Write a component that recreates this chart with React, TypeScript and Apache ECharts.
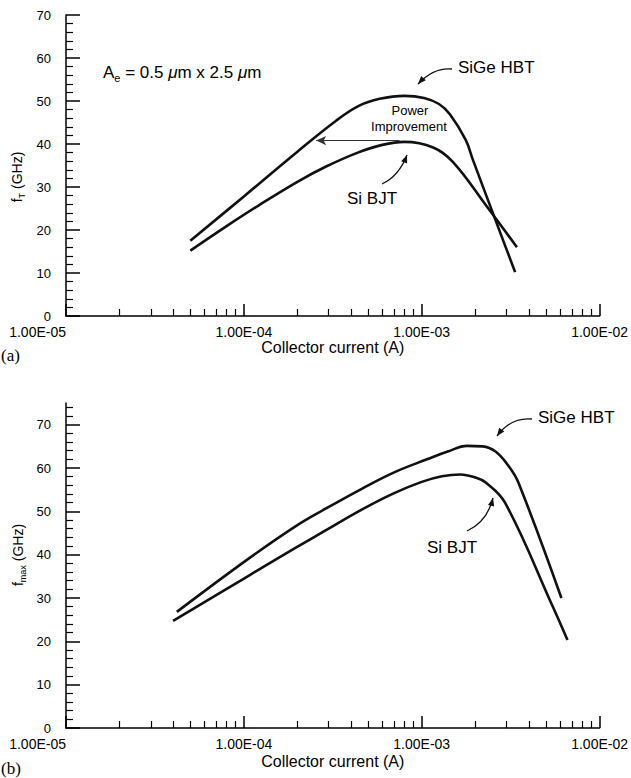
import React, { useEffect, useRef } from 'react';
import * as echarts from 'echarts';

// ---------- data ----------
// (a) cutoff frequency fT
const FT_SIGE_X = [5e-5, 1e-4, 2e-4, 3.3e-4, 4.4e-4, 5.8e-4, 8e-4, 1.03e-3, 1.25e-3, 1.44e-3, 1.77e-3, 1.94e-3, 3.35e-3];
const FT_SIGE_Y = [17.5, 27.8, 38.2, 45.4, 48.8, 50.5, 51.2, 50.7, 49.3, 46.9, 40.9, 36.3, 10.2];
const FT_SI_X = [5e-5, 8e-5, 1.22e-4, 2e-4, 2.88e-4, 4.37e-4, 6e-4, 8e-4, 1.16e-3, 1.5e-3, 2.34e-3, 3.43e-3];
const FT_SI_Y = [15.2, 20.9, 25.8, 31.2, 34.7, 38.0, 39.8, 40.5, 39.2, 35.8, 25.3, 16.0];

// (b) maximum oscillation frequency fmax
const FMAX_SIGE_X = [4.2e-5, 1.04e-4, 1.96e-4, 2.88e-4, 4.6e-4, 7e-4, 1.07e-3, 1.4e-3, 1.8e-3, 2.2e-3, 2.6e-3, 3.1e-3, 3.5e-3, 6.1e-3];
const FMAX_SIGE_Y = [26.8, 38.8, 46.6, 50.6, 55.2, 59.0, 62.0, 63.8, 65.1, 65.0, 63.8, 60.3, 56.6, 30.0];
const FMAX_SI_X = [4e-5, 1.04e-4, 1.96e-4, 2.88e-4, 4.6e-4, 7e-4, 1e-3, 1.3e-3, 1.65e-3, 2e-3, 2.3e-3, 2.94e-3, 5.5e-3, 6.6e-3];
const FMAX_SI_Y = [24.7, 34.9, 41.6, 45.6, 50.4, 54.2, 56.8, 58.1, 58.5, 57.8, 56.6, 52.0, 27.7, 20.3];

// power-improvement arrow (data coordinates)
const POWER_ARROW_FROM = [7.5e-4, 40.8];
const POWER_ARROW_TO = [2.55e-4, 40.8];

// ticks
const X_MAJOR_TICKS = [1e-5, 1e-4, 1e-3, 1e-2];
const X_MINOR_TICKS = [
  2e-5, 3e-5, 4e-5, 5e-5, 6e-5, 7e-5, 8e-5, 9e-5,
  2e-4, 3e-4, 4e-4, 5e-4, 6e-4, 7e-4, 8e-4, 9e-4,
  2e-3, 3e-3, 4e-3, 5e-3, 6e-3, 7e-3, 8e-3, 9e-3,
];
const Y_MAJOR_TICKS = [0, 10, 20, 30, 40, 50, 60, 70];
const Y_MINOR_TICKS_A = [2, 4, 6, 8, 12, 14, 16, 18, 22, 24, 26, 28, 32, 34, 36, 38, 42, 44, 46, 48, 52, 54, 56, 58, 62, 64, 66, 68];
const Y_MINOR_TICKS_B = [...Y_MINOR_TICKS_A, 72, 74];

const SANS = "'Liberation Sans', Arial, Helvetica, sans-serif";
const SERIF = "'Liberation Serif', 'Times New Roman', serif";
const INK = '#111';

const zip = (xs: number[], ys: number[]) => xs.map((x, i) => [x, ys[i]]);

const fmtExp = (v: number) => {
  const s = v.toExponential(2).toUpperCase();
  const [m, e] = s.split('E');
  const sign = e[0] === '-' ? '-' : '+';
  const d = e.replace(/[-+]/, '');
  return `${m}E${sign}${d.padStart(2, '0')}`;
};

const axisLineStyle = { color: '#000', width: 1.5 };

const makeX = (gridIndex: number, nameGap: number) => [
  {
    type: 'log',
    gridIndex,
    logBase: 10,
    min: 1e-5,
    max: 1e-2,
    position: 'bottom',
    axisLine: { show: true, onZero: false, lineStyle: axisLineStyle },
    axisTick: { show: true, inside: true, length: 12, customValues: X_MAJOR_TICKS, lineStyle: axisLineStyle },
    axisLabel: {
      show: true,
      customValues: X_MAJOR_TICKS,
      formatter: (v: number) => fmtExp(v),
      color: '#000',
      fontSize: 14,
      fontFamily: SANS,
      margin: 9,
      alignMinLabel: 'right',
    },
    splitLine: { show: false },
    minorTick: { show: false },
    name: 'Collector current (A)',
    nameLocation: 'middle',
    nameGap,
    nameTextStyle: { color: '#000', fontSize: 16, fontFamily: SANS },
  },
  {
    type: 'log',
    gridIndex,
    logBase: 10,
    min: 1e-5,
    max: 1e-2,
    position: 'bottom',
    offset: 0,
    axisLine: { show: false },
    axisTick: { show: true, inside: true, length: 7, customValues: X_MINOR_TICKS, lineStyle: { color: '#000', width: 1.2 } },
    axisLabel: { show: false },
    splitLine: { show: false },
  },
];

const makeY = (gridIndex: number, max: number, minor: number[]) => [
  {
    type: 'value',
    gridIndex,
    min: 0,
    max,
    position: 'left',
    axisLine: { show: true, onZero: false, lineStyle: axisLineStyle },
    axisTick: { show: true, inside: true, length: 14, customValues: Y_MAJOR_TICKS, lineStyle: axisLineStyle },
    axisLabel: { show: true, customValues: Y_MAJOR_TICKS, color: '#000', fontSize: 13, fontFamily: SANS, margin: 15 },
    splitLine: { show: false },
  },
  {
    type: 'value',
    gridIndex,
    min: 0,
    max,
    position: 'left',
    offset: 0,
    axisLine: { show: false },
    axisTick: { show: true, inside: true, length: 7, customValues: minor, lineStyle: { color: '#000', width: 1.2 } },
    axisLabel: { show: false },
    splitLine: { show: false },
  },
];

const curve = (name: string, xi: number, yi: number, xs: number[], ys: number[], extra: any = {}) => ({
  type: 'line',
  name,
  xAxisIndex: xi,
  yAxisIndex: yi,
  data: zip(xs, ys),
  showSymbol: false,
  smooth: 0.4,
  lineStyle: { color: INK, width: 2.6 },
  itemStyle: { color: INK },
  silent: true,
  ...extra,
});

// arrow head polygon for curved annotation arrows
const head = (tx: number, ty: number, fx: number, fy: number, len = 8, half = 3.2) => {
  const dx = tx - fx;
  const dy = ty - fy;
  const L = Math.hypot(dx, dy) || 1;
  const ux = dx / L;
  const uy = dy / L;
  const bx = tx - ux * len;
  const by = ty - uy * len;
  return {
    type: 'polygon',
    shape: { points: [[tx, ty], [bx - uy * half, by + ux * half], [bx + uy * half, by - ux * half]] },
    style: { fill: INK },
    silent: true,
  };
};

const curvedArrow = (x1: number, y1: number, cx: number, cy: number, x2: number, y2: number) => [
  {
    type: 'bezierCurve',
    shape: { x1, y1, cpx1: cx, cpy1: cy, x2, y2 },
    style: { stroke: INK, lineWidth: 1.3, fill: 'none' },
    silent: true,
  },
  head(x2, y2, cx, cy),
];

const label = (text: string, x: number, y: number, size = 17, align = 'left') => ({
  type: 'text',
  x,
  y,
  silent: true,
  style: { text, fill: '#000', fontSize: size, fontFamily: SANS, align, verticalAlign: 'middle' },
});

export default function App() {
  const ref = useRef<HTMLDivElement>(null);

  useEffect(() => {
    if (!ref.current) return;
    const chart = echarts.init(ref.current, null, { renderer: 'svg' });

    const option: any = {
      animation: false,
      backgroundColor: '#fff',
      grid: [
        { left: 66, top: 15, width: 544, height: 301 },
        { left: 66, top: 403, width: 544, height: 325 },
      ],
      xAxis: [...makeX(0, 21), ...makeX(1, 25)],
      yAxis: [...makeY(0, 70, Y_MINOR_TICKS_A), ...makeY(1, 75, Y_MINOR_TICKS_B)],
      series: [
        curve('SiGe HBT fT', 0, 0, FT_SIGE_X, FT_SIGE_Y),
        curve('Si BJT fT', 0, 0, FT_SI_X, FT_SI_Y, {
          markLine: {
            silent: true,
            symbol: ['none', 'arrow'],
            symbolSize: [7, 10],
            label: { show: false },
            lineStyle: { color: '#333', width: 1, type: 'solid' },
            data: [[{ coord: POWER_ARROW_FROM }, { coord: POWER_ARROW_TO }]],
          },
        }),
        curve('SiGe HBT fmax', 2, 2, FMAX_SIGE_X, FMAX_SIGE_Y),
        curve('Si BJT fmax', 2, 2, FMAX_SI_X, FMAX_SI_Y),
      ],
      graphic: [
        // panel tags
        { type: 'text', x: 1, y: 355, silent: true, style: { text: '(a)', fill: '#000', fontSize: 17, fontFamily: SERIF, verticalAlign: 'middle' } },
        { type: 'text', x: 1, y: 768, silent: true, style: { text: '(b)', fill: '#000', fontSize: 17, fontFamily: SERIF, verticalAlign: 'middle' } },
        // y-axis titles
        {
          type: 'text',
          x: 17,
          y: 177,
          rotation: Math.PI / 2,
          silent: true,
          style: {
            text: '{n|f}{s|T}{n| (GHz)}',
            align: 'center',
            verticalAlign: 'middle',
            rich: {
              n: { fontSize: 14, fontFamily: SANS, fill: '#000', lineHeight: 18, verticalAlign: 'middle' },
              s: { fontSize: 9, fontFamily: SANS, fill: '#000', lineHeight: 9, verticalAlign: 'bottom' },
            },
          },
        },
        {
          type: 'text',
          x: 18,
          y: 555,
          rotation: Math.PI / 2,
          silent: true,
          style: {
            text: '{n|f}{s|max}{n| (GHz)}',
            align: 'center',
            verticalAlign: 'middle',
            rich: {
              n: { fontSize: 14, fontFamily: SANS, fill: '#000', lineHeight: 18, verticalAlign: 'middle' },
              s: { fontSize: 9, fontFamily: SANS, fill: '#000', lineHeight: 9, verticalAlign: 'bottom' },
            },
          },
        },
        // emitter area
        {
          type: 'text',
          x: 103,
          y: 72,
          silent: true,
          style: {
            text: '{n|A}{s|e}{n| = 0.5 }{i|μ}{n|m x 2.5 }{i|μ}{n|m}',
            verticalAlign: 'middle',
            rich: {
              n: { fontSize: 17, fontFamily: SANS, fill: '#000', lineHeight: 22, verticalAlign: 'middle' },
              i: { fontSize: 17, fontFamily: SANS, fontStyle: 'italic', fill: '#000', lineHeight: 22, verticalAlign: 'middle' },
              s: { fontSize: 11, fontFamily: SANS, fill: '#000', lineHeight: 11, verticalAlign: 'bottom' },
            },
          },
        },
        // panel (a) annotations
        label('SiGe HBT', 458, 67),
        ...curvedArrow(452, 69, 434, 67, 418, 84),
        label('Power', 410, 110, 13, 'center'),
        label('Improvement', 409, 126, 13, 'center'),
        label('Si BJT', 347, 198),
        ...curvedArrow(382, 184, 399, 176, 407, 155),
        // panel (b) annotations
        label('SiGe HBT', 538, 417),
        ...curvedArrow(532, 419, 511, 417, 497, 436),
        label('Si BJT', 427, 547),
        ...curvedArrow(467, 531, 487, 522, 493, 498),
      ],
    };

    chart.setOption(option);
    return () => chart.dispose();
  }, []);

  return (
    <div
      ref={ref}
      style={{ position: 'absolute', left: 0, top: 0, width: 631, height: 778, background: '#fff' }}
    />
  );
}
